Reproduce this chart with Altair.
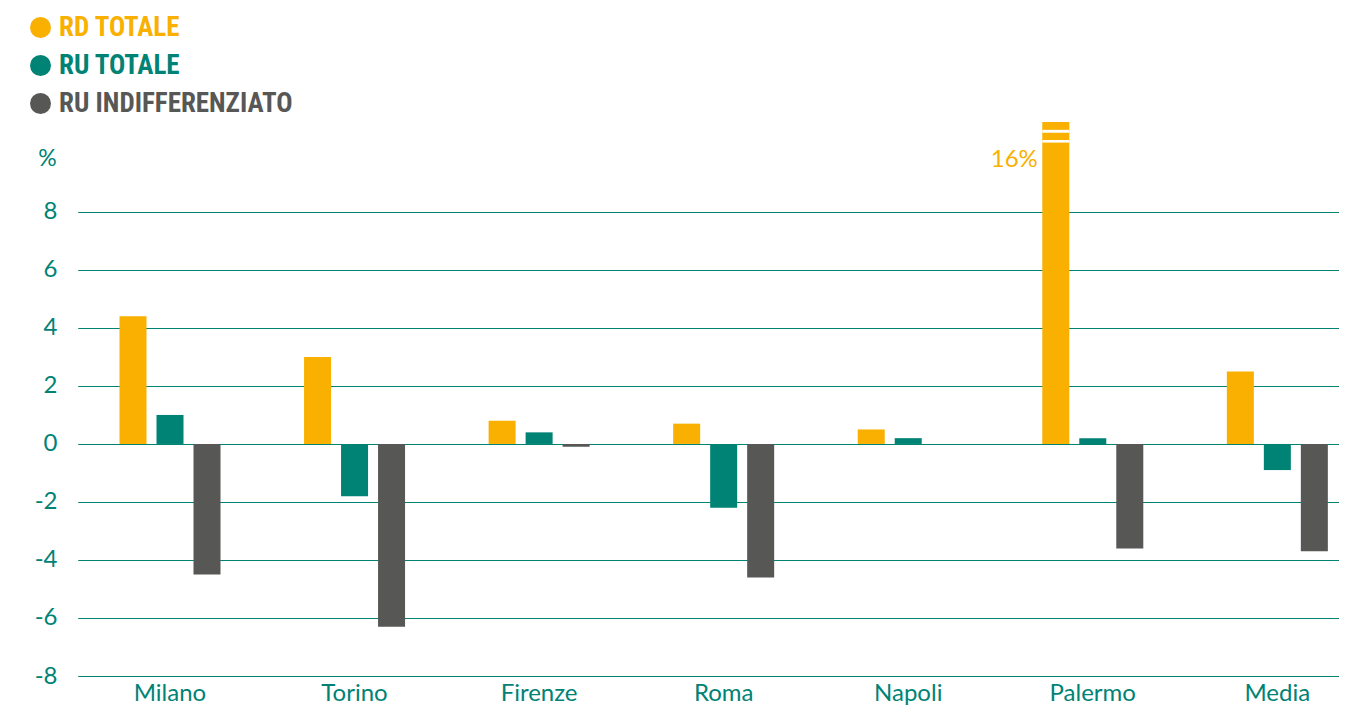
import altair as alt
import pandas as pd

cities = ["Milano", "Torino", "Firenze", "Roma", "Napoli", "Palermo", "Media"]
series = ["RD TOTALE", "RU TOTALE", "RU INDIFFERENZIATO"]
rd_totale = [4.4, 3.0, 0.8, 0.7, 0.5, 16.0, 2.5]
ru_totale = [1.0, -1.8, 0.4, -2.2, 0.2, 0.2, -0.9]
ru_indiff = [-4.5, -6.3, -0.1, -4.6, 0.0, -3.6, -3.7]
colors = ["#F9B000", "#008375", "#575756"]
y_ticks = [-8, -6, -4, -2, 0, 2, 4, 6, 8]

# axis break on the Palermo bar (value units)
break_city = ["Palermo", "Palermo"]
break_lo = [10.39, 10.73]
break_hi = [10.48, 10.83]
label_text = ["16%"]
label_y = [9.8]

TEAL = "#008375"
FONT = "Lato"
LEGEND_FONT = "Liberation Sans Narrow, Roboto Condensed, DejaVu Sans Condensed, sans-serif"

rows = []
for vals, s in zip([rd_totale, ru_totale, ru_indiff], series):
    for c, v in zip(cities, vals):
        rows.append({"city": c, "series": s, "value": v})
df = pd.DataFrame(rows)

df_break = pd.DataFrame({"city": break_city, "series": ["RD TOTALE"] * 2,
                         "lo": break_lo, "hi": break_hi})
df_label = pd.DataFrame({"city": ["Palermo"], "series": ["RD TOTALE"],
                         "y": label_y, "text": label_text})

x_enc = alt.X("city:N", sort=cities,
              scale=alt.Scale(range=[4.7, 1296.6], paddingInner=0, paddingOuter=0),
              axis=alt.Axis(title=None, labelAngle=0, domain=False, ticks=False,
                            labelFont=FONT, labelFontSize=24, labelColor=TEAL,
                            labelPadding=5))
xoff_enc = alt.XOffset("series:N", sort=series,
                       scale=alt.Scale(range=[36.8, 147.8], paddingInner=0.27,
                                       paddingOuter=0.135))
y_scale = alt.Scale(domain=[-8, 11.1], nice=False, zero=False)

label_color_expr = ("datum.label === 'RD TOTALE' ? '#F9B000' : "
                    "(datum.label === 'RU TOTALE' ? '#008375' : '#575756')")

bars = alt.Chart(df).mark_bar(clip=True).encode(
    x=x_enc,
    xOffset=xoff_enc,
    y=alt.Y("value:Q", scale=y_scale,
            axis=alt.Axis(values=y_ticks, title="%", titleAngle=0, titleX=-26, titleY=36,
                          titleAlign="center", titleBaseline="middle",
                          titleFont=FONT, titleFontSize=23, titleFontWeight="normal",
                          titleColor=TEAL, domain=False, ticks=False,
                          labelExpr="datum.value + ''",
                          labelFont=FONT, labelFontSize=24, labelColor=TEAL,
                          labelPadding=16, grid=True, gridColor=TEAL, gridWidth=1.2,
                          gridOpacity=1)),
    color=alt.Color("series:N", sort=series,
                    scale=alt.Scale(domain=series, range=colors),
                    legend=alt.Legend(title=None, orient="none", legendX=-46, legendY=-108,
                                      symbolType="circle", symbolSize=440,
                                      symbolStrokeWidth=0, symbolOpacity=1,
                                      labelFont=LEGEND_FONT, labelFontSize=27,
                                      labelFontWeight="bold",
                                      labelColor={"expr": label_color_expr},
                                      labelOffset=5, rowPadding=10, labelLimit=400)),
)

breaks = alt.Chart(df_break).mark_bar(color="white").encode(
    x=alt.X("city:N", sort=cities),
    xOffset=alt.XOffset("series:N", sort=series),
    y=alt.Y("lo:Q"),
    y2="hi:Q",
)

label = alt.Chart(df_label).mark_text(align="right", baseline="middle", dx=-18,
                                      font=FONT, fontSize=24, color="#F9B000").encode(
    x=alt.X("city:N", sort=cities),
    xOffset=alt.XOffset("series:N", sort=series),
    y=alt.Y("y:Q"),
    text="text:N",
)

chart = alt.layer(bars, breaks, label).properties(
    width=1266, height=554,
    background="white",
    autosize=alt.AutoSizeParams(type="none"),
    padding={"left": 65, "top": 114, "right": 0, "bottom": 34},
).configure_view(stroke=None)

chart.save("out.html", embed_options={"renderer": "svg", "actions": False})
